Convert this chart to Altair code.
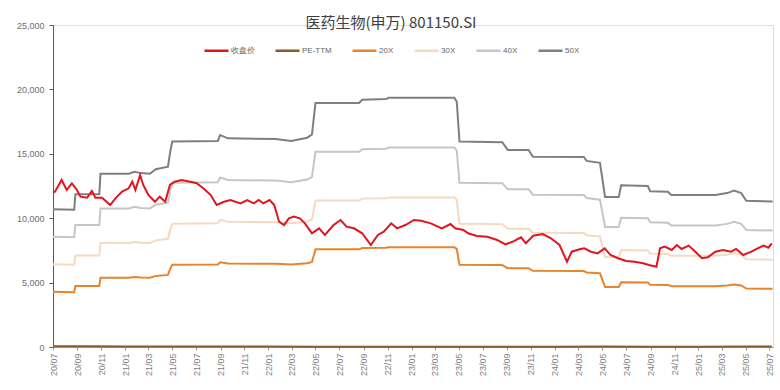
import altair as alt
import pandas as pd

title_text = "医药生物(申万) 801150.SI"
series_names = ["收盘价", "PE-TTM", "20X", "30X", "40X", "50X"]
series_colors = ["#E0161E", "#8B5A2B", "#E8842C", "#F6DAC0", "#C6C6C6", "#7F7F7F"]
tick_labels = ["20/07", "20/09", "20/11", "21/01", "21/03", "21/05", "21/07", "21/09", "21/11",
               "22/01", "22/03", "22/05", "22/07", "22/09", "22/11", "23/01", "23/03", "23/05",
               "23/07", "23/09", "23/11", "24/01", "24/03", "24/05", "24/07", "24/09", "24/11",
               "25/01", "25/03", "25/05", "25/07"]
y_ticks = [0, 5000, 10000, 15000, 20000, 25000]

close_dates = [
    "2020-07-01", "2020-07-06", "2020-07-23", "2020-08-05", "2020-08-18", "2020-08-31",
    "2020-09-09", "2020-09-26", "2020-10-08", "2020-10-17", "2020-11-03", "2020-11-24",
    "2020-12-07", "2020-12-24", "2021-01-10", "2021-01-19", "2021-01-27", "2021-02-08",
    "2021-02-16", "2021-03-01", "2021-03-18", "2021-03-30", "2021-04-13", "2021-04-25",
    "2021-05-07", "2021-05-25", "2021-06-16", "2021-07-02", "2021-07-19", "2021-08-07",
    "2021-08-22", "2021-09-10", "2021-09-26", "2021-10-22", "2021-11-08", "2021-11-25",
    "2021-12-07", "2021-12-19", "2022-01-04", "2022-01-16", "2022-01-28", "2022-02-10",
    "2022-02-22", "2022-03-07", "2022-03-22", "2022-04-04", "2022-04-22", "2022-05-10",
    "2022-05-25", "2022-06-16", "2022-07-04", "2022-07-19", "2022-08-07", "2022-08-28",
    "2022-09-19", "2022-10-07", "2022-10-22", "2022-11-10", "2022-11-25", "2022-12-16",
    "2023-01-07", "2023-01-25", "2023-02-19", "2023-03-19", "2023-04-10", "2023-04-22",
    "2023-05-13", "2023-05-25", "2023-06-16", "2023-07-13", "2023-08-07", "2023-08-28",
    "2023-09-16", "2023-10-07", "2023-10-19", "2023-11-07", "2023-12-01", "2023-12-22",
    "2024-01-13", "2024-02-01", "2024-02-13", "2024-03-04", "2024-03-16", "2024-04-02",
    "2024-04-19", "2024-05-07", "2024-05-22", "2024-06-10", "2024-07-01", "2024-07-22",
    "2024-08-13", "2024-08-28", "2024-09-16", "2024-09-25", "2024-10-07", "2024-10-25",
    "2024-11-07", "2024-11-19", "2024-12-07", "2024-12-22", "2025-01-10", "2025-01-25",
    "2025-02-13", "2025-03-04", "2025-03-25", "2025-04-07", "2025-04-25", "2025-05-16",
    "2025-06-01", "2025-06-16", "2025-06-28", "2025-07-07"]
close_values = [
    12000, 12060, 12970, 12190, 12710, 12190,
    11670, 11590, 12110, 11590, 11590, 11025,
    11540, 12060, 12320, 12830, 12190, 13350,
    12580, 11800, 11280, 11670, 11280, 12580,
    12830, 12970, 12830, 12710, 12320, 11800,
    11025, 11280, 11410, 11150, 11410, 11150,
    11410, 11150, 11410, 11025, 9730, 9470,
    9990, 10120, 9990, 9600, 8830, 9215,
    8700, 9470, 9860, 9340, 9215, 8830,
    7920, 8700, 8950, 9600, 9215, 9470,
    9860, 9800, 9600, 9215, 9550, 9215,
    9085, 8830, 8620, 8560, 8310, 7970,
    8180, 8520, 8050, 8640, 8770, 8440,
    7920, 6620, 7400, 7590, 7660, 7400,
    7270, 7660, 7140, 6890, 6680, 6620,
    6500, 6370, 6230, 7660, 7790, 7530,
    7920, 7610, 7870, 7450, 6890, 6960,
    7400, 7530, 7400, 7610, 7140, 7400,
    7660, 7870, 7710, 8050]

band_dates = [
    "2020-07-01", "2020-08-24", "2020-08-27", "2020-10-27", "2020-10-30", "2021-01-10",
    "2021-01-25", "2021-02-10", "2021-03-05", "2021-03-20", "2021-04-20", "2021-04-26",
    "2021-05-01", "2021-08-25", "2021-08-31", "2021-09-20", "2022-01-20", "2022-02-28",
    "2022-04-10", "2022-04-22", "2022-05-01", "2022-08-20", "2022-08-28", "2022-10-28",
    "2022-11-03", "2023-04-20", "2023-04-26", "2023-05-03", "2023-08-20", "2023-09-03",
    "2023-10-26", "2023-11-06", "2024-03-15", "2024-03-22", "2024-04-25", "2024-05-08",
    "2024-06-12", "2024-06-18", "2024-08-25", "2024-08-31", "2024-10-15", "2024-10-24",
    "2025-02-13", "2025-03-15", "2025-04-02", "2025-04-20", "2025-05-03", "2025-07-09"]
band_50x = [
    10700, 10650, 11850, 11850, 13450, 13450, 13600, 13500, 13450, 13800, 14000, 15200,
    15950, 16000, 16450, 16200, 16150, 16000, 16250, 16500, 18950, 18950, 19200, 19250,
    19350, 19350, 19050, 15950, 15900, 15300, 15300, 14780, 14750, 14450, 14300, 11650,
    11650, 12550, 12500, 12100, 12050, 11800, 11800, 11950, 12150, 11950, 11350, 11300]
band_40x = [
    8560, 8520, 9480, 9480, 10760, 10760, 10880, 10800, 10760, 11040, 11200, 12160,
    12760, 12800, 13160, 12960, 12920, 12800, 13000, 13200, 15160, 15160, 15360, 15400,
    15480, 15480, 15240, 12760, 12720, 12240, 12240, 11824, 11800, 11560, 11440, 9320,
    9320, 10040, 10000, 9680, 9640, 9440, 9440, 9560, 9720, 9560, 9080, 9040]
band_30x = [
    6420, 6390, 7110, 7110, 8070, 8070, 8160, 8100, 8070, 8280, 8400, 9120,
    9570, 9600, 9870, 9720, 9690, 9600, 9750, 9900, 11370, 11370, 11520, 11550,
    11610, 11610, 11430, 9570, 9540, 9180, 9180, 8868, 8850, 8670, 8580, 6990,
    6990, 7530, 7500, 7260, 7230, 7080, 7080, 7170, 7290, 7170, 6810, 6780]
band_20x = [
    4280, 4260, 4740, 4740, 5380, 5380, 5440, 5400, 5380, 5520, 5600, 6080,
    6380, 6400, 6580, 6480, 6460, 6400, 6500, 6600, 7580, 7580, 7680, 7700,
    7740, 7740, 7620, 6380, 6360, 6120, 6120, 5912, 5900, 5780, 5720, 4660,
    4660, 5020, 5000, 4840, 4820, 4720, 4720, 4780, 4860, 4780, 4540, 4520]

pe_dates = ["2020-07-01", "2020-10-01", "2021-01-01", "2021-05-01", "2021-09-01", "2022-01-01",
            "2022-05-01", "2022-09-01", "2023-01-01", "2023-05-01", "2023-09-01", "2024-01-01",
            "2024-05-01", "2024-09-01", "2025-01-01", "2025-05-01", "2025-07-07"]
pe_ttm = [56, 49, 46, 40, 35, 34, 24, 21, 26, 28, 27, 27, 31, 25, 29, 33, 35]

rows = []
for d, v in zip(pe_dates, pe_ttm):
    rows.append({"date": d, "value": v, "series": "PE-TTM"})
for name, vals in [("20X", band_20x), ("30X", band_30x), ("40X", band_40x), ("50X", band_50x)]:
    for d, v in zip(band_dates, vals):
        rows.append({"date": d, "value": v, "series": name})
bands_df = pd.DataFrame(rows)
close_df = pd.DataFrame({"date": close_dates, "value": close_values, "series": "收盘价"})

font = "Liberation Sans"
tick_values = [alt.DateTime(year=2000 + int(t[:2]), month=int(t[3:]), date=1, utc=True) for t in tick_labels]

x_enc = alt.X(
    "date:T",
    scale=alt.Scale(type="utc",
                    domain=[alt.DateTime(year=2020, month=7, date=1, utc=True),
                            alt.DateTime(year=2025, month=7, date=10, utc=True)]),
    axis=alt.Axis(values=tick_values, labelExpr="utcFormat(datum.value, '%y/%m')",
                  labelAngle=270, labelFontSize=9, labelColor="#808080", labelFont=font,
                  tickSize=3, tickColor="#A0A0A0", domainColor="#A0A0A0", labelPadding=3,
                  labelOverlap=False, labelFlush=False, labelBound=False, grid=False),
    title=None)
y_enc = alt.Y(
    "value:Q",
    scale=alt.Scale(domain=[0, 25000], nice=False),
    axis=alt.Axis(values=y_ticks, labelExpr="format(datum.value, ',.0f')", labelFontSize=9,
                  labelColor="#6E6E6E", labelFont=font, tickSize=4, tickColor="#595959",
                  domainColor="#595959", labelPadding=5, grid=False),
    title=None)
color_enc = alt.Color(
    "series:N",
    scale=alt.Scale(domain=series_names, range=series_colors),
    legend=alt.Legend(orient="none", legendX=150, legendY=12, direction="horizontal",
                      title=None, symbolType="stroke", symbolSize=576, symbolStrokeWidth=2.5,
                      labelFontSize=8, labelColor="#666666", labelFont=font, labelOffset=1,
                      columnPadding=15, columns=6))

bands = alt.Chart(bands_df).mark_line(strokeWidth=2, clip=False).encode(
    x=x_enc, y=y_enc, color=color_enc, detail="series:N")
close = alt.Chart(close_df).mark_line(strokeWidth=2, clip=False).encode(
    x=x_enc, y=y_enc, color=color_enc)

chart = alt.layer(bands, close).properties(
    width=720, height=322,
    padding={"left": 53, "top": 25, "right": 7, "bottom": 43},
    autosize=alt.AutoSizeParams(type="none"),
    title=alt.TitleParams(text=title_text, fontSize=15, font="Noto Sans CJK SC",
                          fontWeight="normal", color="#404040", anchor="middle",
                          baseline="middle", offset=0, dx=-22, dy=17),
).configure_view(stroke=None).configure(background="white")

chart.save("out.html", embed_options={"renderer": "svg", "actions": False})
